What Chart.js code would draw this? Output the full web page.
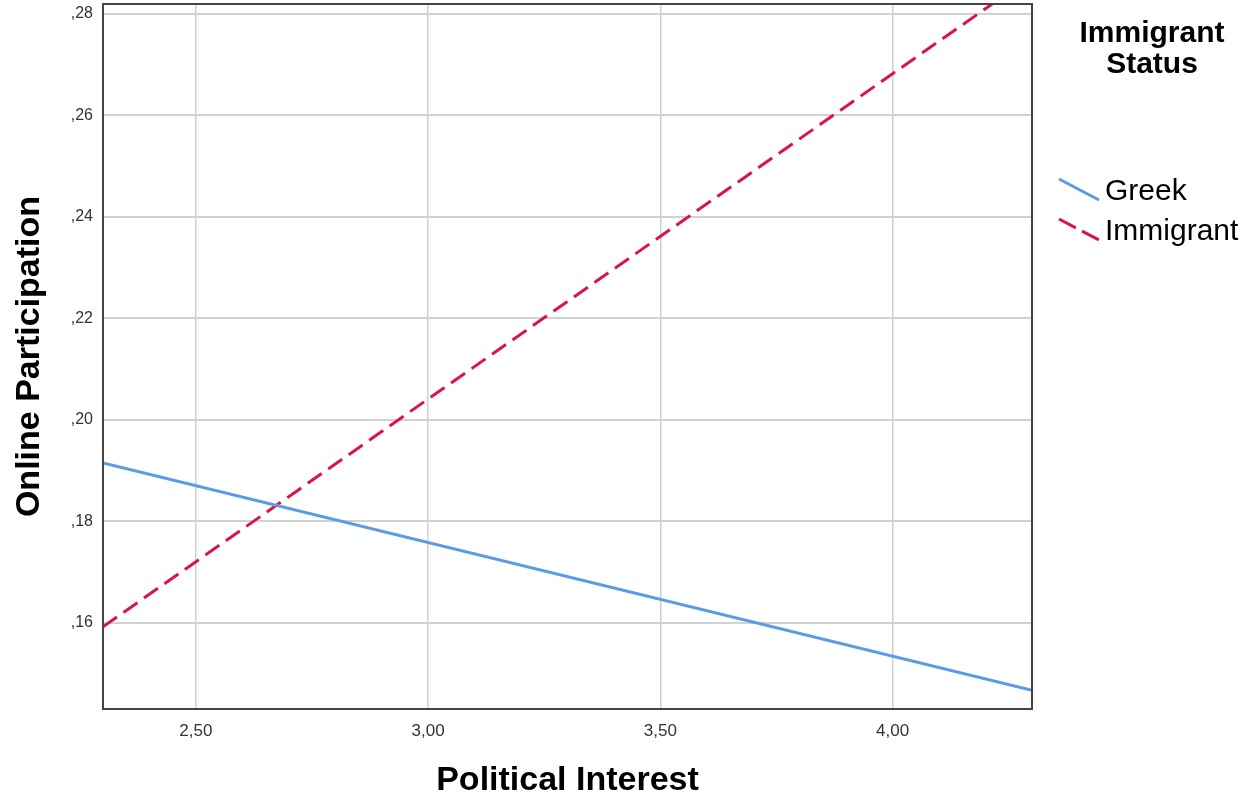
<!DOCTYPE html>
<html>
<head>
<meta charset="utf-8">
<script src="https://cdn.jsdelivr.net/npm/chart.js@4.4.0/dist/chart.umd.min.js"></script>
<style>
  html, body { margin: 0; padding: 0; background: #fff; }
  #wrap { width: 1249px; height: 798px; }
</style>
</head>
<body>
<div id="wrap"><canvas id="grafica" width="1249" height="798"></canvas></div>
<script>
// datos
const xValues = [2.3, 4.3]
const greekValues = [0.1915, 0.1467]
const immigrantValues = [0.1592, 0.2874]
const xTicks = [2.5, 3.0, 3.5, 4.0]
const yTicks = [0.16, 0.18, 0.20, 0.22, 0.24, 0.26, 0.28]
const seriesNames = ['Greek', 'Immigrant']
const legendTitle = ['Immigrant', 'Status']

const FONT = '"Liberation Sans", Arial, sans-serif'
const BLUE = '#5b9be6'
const RED = '#dc1443'

const toPoints = (ys) => xValues.map((x, i) => ({ x: x, y: ys[i] }))

// marco + leyenda dibujados a mano
const framePlugin = {
  id: 'framePlugin',
  afterDraw(chart) {
    const { ctx, chartArea } = chart
    ctx.save()
    ctx.strokeStyle = '#444'
    ctx.lineWidth = 2
    ctx.strokeRect(chartArea.left, chartArea.top, chartArea.right - chartArea.left, chartArea.bottom - chartArea.top)

    // titulo de la leyenda
    ctx.fillStyle = '#000'
    ctx.font = 'bold 30px ' + FONT
    ctx.textAlign = 'center'
    ctx.textBaseline = 'middle'
    ctx.fillText(legendTitle[0], 1152, 34)
    ctx.fillText(legendTitle[1], 1152, 65)

    // items
    const items = [
      { label: seriesNames[0], color: BLUE, dash: [], y: 190 },
      { label: seriesNames[1], color: RED, dash: [19, 7], y: 230 }
    ]
    items.forEach(it => {
      ctx.strokeStyle = it.color
      ctx.lineWidth = 3
      ctx.setLineDash(it.dash)
      ctx.beginPath()
      ctx.moveTo(1059, it.y - 11)
      ctx.lineTo(1099, it.y + 10)
      ctx.stroke()
      ctx.setLineDash([])
      ctx.fillStyle = '#000'
      ctx.font = '30px ' + FONT
      ctx.textAlign = 'left'
      ctx.fillText(it.label, 1105, it.y + 2)
    })
    ctx.restore()
  }
}

const ctx = document.getElementById('grafica').getContext('2d')

new Chart(ctx, {
  type: 'scatter',
  data: {
    datasets: [
      {
        label: seriesNames[0],
        data: toPoints(greekValues),
        showLine: true,
        borderColor: BLUE,
        borderWidth: 3,
        pointRadius: 0
      },
      {
        label: seriesNames[1],
        data: toPoints(immigrantValues),
        showLine: true,
        borderColor: RED,
        borderWidth: 3,
        borderDash: [17, 8],
        pointRadius: 0
      }
    ]
  },
  options: {
    responsive: false,
    animation: false,
    layout: { padding: { top: 4, right: 217, left: 0, bottom: 0 } },
    plugins: {
      legend: { display: false },
      tooltip: { enabled: false }
    },
    scales: {
      x: {
        type: 'linear',
        min: 2.3,
        max: 4.3,
        afterBuildTicks: (scale) => { scale.ticks = xTicks.map(v => ({ value: v })) },
        afterFit: (scale) => { scale.height = 89; scale.paddingLeft = 0; scale.paddingRight = 0 },
        grid: { color: '#cfcfcf', lineWidth: 1.5, drawTicks: false },
        border: { display: false },
        ticks: {
          padding: 12,
          color: '#333',
          font: { size: 17, family: FONT },
          callback: (v) => Number(v).toFixed(2).replace('.', ',')
        },
        title: {
          display: true,
          text: 'Political Interest',
          color: '#000',
          font: { size: 34, weight: 'bold', family: FONT, lineHeight: 1 },
          padding: { top: 0, bottom: 0 }
        }
      },
      y: {
        type: 'linear',
        min: 0.1430,
        max: 0.2819,
        afterBuildTicks: (scale) => { scale.ticks = yTicks.map(v => ({ value: v })) },
        afterFit: (scale) => { scale.width = 103; scale.paddingTop = 0; scale.paddingBottom = 0 },
        grid: { color: '#d2d2d2', lineWidth: 2, drawTicks: false },
        border: { display: false },
        ticks: {
          padding: 10,
          color: '#333',
          font: { size: 16, family: FONT },
          callback: (v) => Number(v).toFixed(2).replace('0.', ',')
        },
        title: {
          display: true,
          text: 'Online Participation',
          color: '#000',
          font: { size: 34, weight: 'bold', family: FONT, lineHeight: 1 },
          padding: { top: 13, bottom: 0 }
        }
      }
    }
  },
  plugins: [framePlugin]
})
</script>
</body>
</html>
